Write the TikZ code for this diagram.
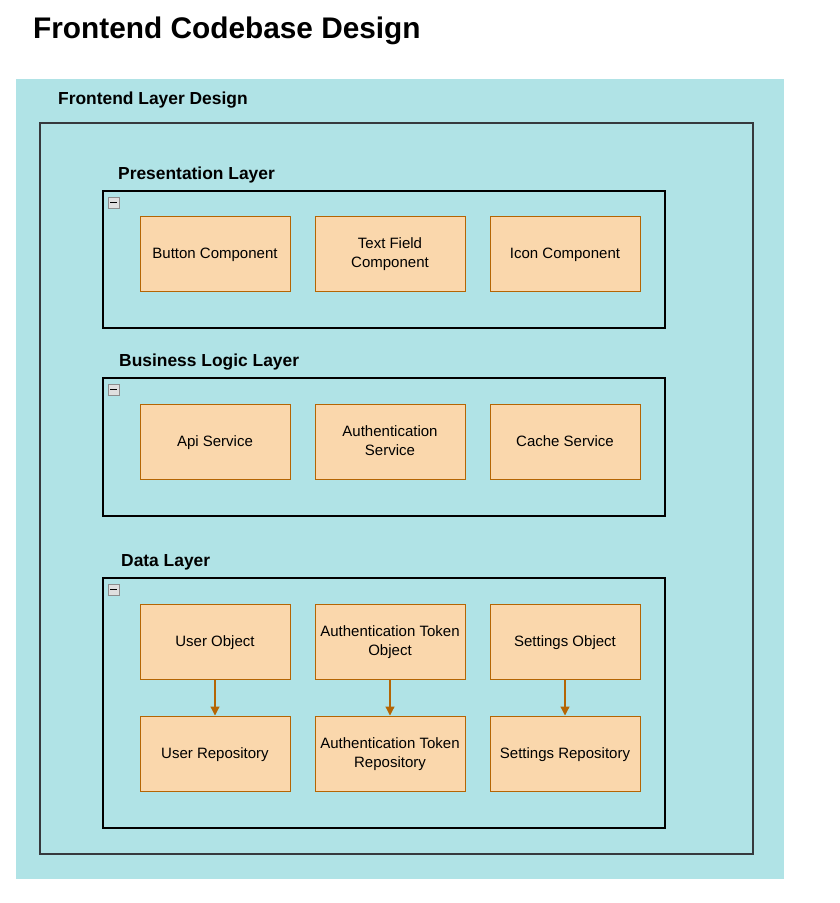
\documentclass[tikz,border=0pt]{standalone}
\usepackage{fontspec}
\setmainfont{Liberation Sans}
\usetikzlibrary{arrows.meta}
\definecolor{teal}{HTML}{B0E3E6}
\definecolor{boxfill}{HTML}{FAD7AC}
\definecolor{boxline}{HTML}{B46504}
\definecolor{frameline}{HTML}{36393D}
\tikzset{
  comp/.style={draw=boxline, fill=boxfill, line width=1pt, minimum width=150pt, minimum height=75pt, align=center, font=\fontsize{15}{19}\selectfont, inner sep=2pt, text depth=1pt},
  layerlabel/.style={anchor=west, font=\fontsize{17.4}{20}\selectfont\bfseries, inner sep=0pt},
  container/.style={draw=black, line width=1.3pt},
  flow/.style={draw=boxline, line width=1.2pt, -{Triangle[width=9pt,length=9pt]}},
  minusicon/.style={draw=gray!90, fill=gray!25, line width=0.8pt}
}
\begin{document}
\begin{tikzpicture}[x=1pt,y=-1pt]
\useasboundingbox (0,0) rectangle (839,903);
\fill[white] (0,0) rectangle (839,903);
% title
\node[anchor=west, font=\fontsize{29.8}{34}\selectfont\bfseries, inner sep=0pt] (title) at (33,31) {Frontend Codebase Design};
% outer teal area
\fill[teal] (16,79) rectangle (784,879);
\node[layerlabel] (fld) at (58,100) {Frontend Layer Design};
\draw[draw=frameline, line width=1.3pt] (40,123) rectangle (753,854);

% Presentation layer
\node[layerlabel] (pl) at (118,175) {Presentation Layer};
\draw[container] (103,191) rectangle (665,328);
\draw[minusicon] (108,197) rectangle (119,208);
\draw[line width=1.2pt] (110,202.5) -- (117,202.5);
\node[comp] (btn) at (215,253.5) {Button Component};
\node[comp] (tf) at (390,253.5) {Text Field\\Component};
\node[comp] (icon) at (565,253.5) {Icon Component};

% Business logic layer
\node[layerlabel] (bl) at (119,362) {Business Logic Layer};
\draw[container] (103,378) rectangle (665,516);
\draw[minusicon] (108,384) rectangle (119,395);
\draw[line width=1.2pt] (110,389.5) -- (117,389.5);
\node[comp] (api) at (215,441.5) {Api Service};
\node[comp] (auth) at (390,441.5) {Authentication\\Service};
\node[comp] (cache) at (565,441.5) {Cache Service};

% Data layer
\node[layerlabel] (dl) at (121,562) {Data Layer};
\draw[container] (103,578) rectangle (665,828);
\draw[minusicon] (108,584) rectangle (119,595);
\draw[line width=1.2pt] (110,589.5) -- (117,589.5);
\node[comp] (uo) at (215,641.5) {User Object};
\node[comp] (ato) at (390,641.5) {Authentication Token\\Object};
\node[comp] (so) at (565,641.5) {Settings Object};
\node[comp] (ur) at (215,753.5) {User Repository};
\node[comp] (atr) at (390,753.5) {Authentication Token\\Repository};
\node[comp] (sr) at (565,753.5) {Settings Repository};
\draw[flow] (uo) -- (ur);
\draw[flow] (ato) -- (atr);
\draw[flow] (so) -- (sr);
\end{tikzpicture}
\end{document}
